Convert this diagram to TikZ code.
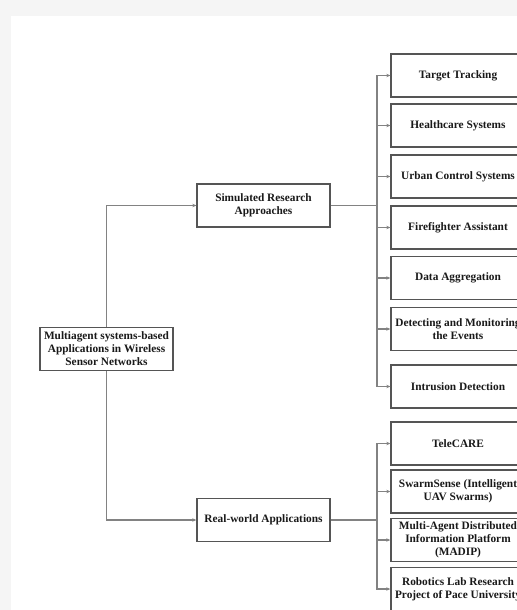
\documentclass[tikz,border=0pt]{standalone}
\usepackage{fontspec}
\setmainfont{Liberation Serif}
\usetikzlibrary{arrows.meta}

\definecolor{pagegray}{RGB}{245,245,245}
\definecolor{boxgray}{RGB}{85,85,85}
\definecolor{linegray}{RGB}{130,130,130}
\definecolor{inkgray}{RGB}{25,25,25}

\tikzset{every picture/.style={line width=0.75pt}}
\tikzset{
  appbox/.style={draw=boxgray, line width=1pt, fill=white, minimum width=99.75pt, minimum height=32.25pt,
    inner sep=0.75pt, align=center, text=inkgray, font=\bfseries\fontsize{8.5}{9.75}\selectfont},
  leafbox/.style={appbox, minimum width=100.5pt},
  link/.style={draw=linegray, line width=0.9pt},
  tip/.style={link, -{Stealth[length=3pt,width=2.6pt]}}
}

\begin{document}
\begin{tikzpicture}[x=0.75pt,y=0.75pt,yscale=-1,xscale=1]
\useasboundingbox (0,0) rectangle (517,610);
\clip (0,0) rectangle (517,610);

%Page background
\fill [pagegray] (0,0) rectangle (517,610);
\fill [white] (11,16) rectangle (517,610);

% Text Node
\node [appbox] (root) at (106.5,349) {Multiagent systems-based\\Applications in Wireless\\Sensor Networks};
% Text Node
\node [appbox] (sim) at (263.5,205.5) {Simulated Research\\Approaches};
% Text Node
\node [appbox] (real) at (263.5,520) {Real-world Applications};

% Text Node
\node [leafbox] (track) at (458,75.5) {Target Tracking};
\node [leafbox] (health) at (458,125.5) {Healthcare Systems};
\node [leafbox] (urban) at (458,176.5) {Urban Control Systems};
\node [leafbox] (fire) at (458,227.5) {Firefighter Assistant};
\node [leafbox] (aggr) at (458,278) {Data Aggregation};
\node [leafbox] (detect) at (458,329) {Detecting and Monitoring\\the Events};
\node [leafbox] (intru) at (458,386.5) {Intrusion Detection};

% Text Node
\node [leafbox] (tele) at (458,443.5) {TeleCARE};
\node [leafbox] (swarm) at (458,491.5) {SwarmSense (Intelligent\\UAV Swarms)};
\node [leafbox] (madip) at (458,540) {Multi-Agent Distributed\\Information Platform\\(MADIP)};
\node [leafbox] (pace) at (458,589) {Robotics Lab Research\\Project of Pace University};

%Straight Lines
\draw [tip] (root.north) |- (sim.west);
\draw [tip] (root.south) |- (real.west);

\coordinate (simbus) at (377,205.5);
\coordinate (realbus) at (377,520);
\draw [link] (sim.east) -- (simbus);
\draw [link] (real.east) -- (realbus);

%Straight Lines
\draw [tip] (simbus) |- (track.west);
\draw [tip] (simbus) |- (health.west);
\draw [tip] (simbus) |- (urban.west);
\draw [tip] (simbus) |- (fire.west);
\draw [tip] (simbus) |- (aggr.west);
\draw [tip] (simbus) |- (detect.west);
\draw [tip] (simbus) |- (intru.west);

%Straight Lines
\draw [tip] (realbus) |- (tele.west);
\draw [tip] (realbus) |- (swarm.west);
\draw [tip] (realbus) |- (madip.west);
\draw [tip] (realbus) |- (pace.west);

\end{tikzpicture}
\end{document}
